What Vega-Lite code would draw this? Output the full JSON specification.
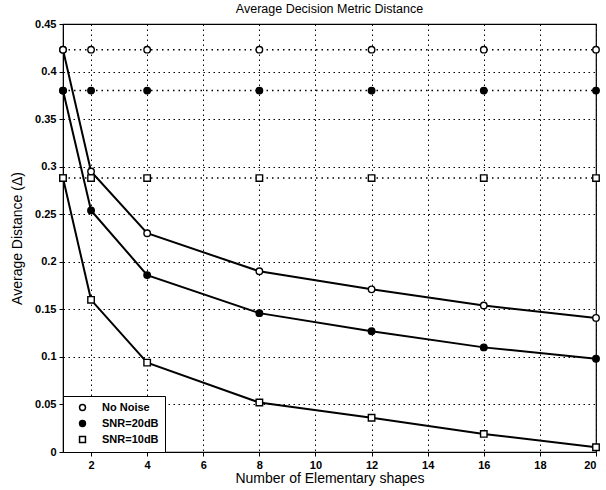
{
  "$schema": "https://vega.github.io/schema/vega-lite/v6.json",
  "autosize": "none",
  "width": 533,
  "height": 428,
  "padding": {"left": 63, "top": 24, "right": 10, "bottom": 38},
  "background": "white",
  "title": {"text": "Average Decision Metric Distance", "font": "Liberation Sans", "fontSize": 12.5, "fontWeight": "normal", "color": "black", "offset": 3},
  "config": {
    "view": {"stroke": "black", "strokeWidth": 1.2},
    "axis": {
      "grid": true,
      "domainColor": "black", "tickColor": "black", "gridColor": "black", "gridDash": [1.5, 3.5], "gridOpacity": 1, "gridWidth": 1,
      "labelFont": "Liberation Sans", "labelFontSize": 11, "labelFontWeight": "bold", "labelColor": "black",
      "titleFont": "Liberation Sans", "titleFontSize": 14, "titleFontWeight": "normal", "titleColor": "black",
      "tickSize": 4, "labelPadding": 3
    },
    "legend": {"labelFont": "Liberation Sans", "labelFontSize": 11, "labelColor": "black"}
  },
  "datasets": {
    "pts": [
      {"n": 1, "series": "No Noise", "kind": "curve", "v": 0.423},
      {"n": 2, "series": "No Noise", "kind": "curve", "v": 0.295},
      {"n": 4, "series": "No Noise", "kind": "curve", "v": 0.230},
      {"n": 8, "series": "No Noise", "kind": "curve", "v": 0.190},
      {"n": 12, "series": "No Noise", "kind": "curve", "v": 0.171},
      {"n": 16, "series": "No Noise", "kind": "curve", "v": 0.154},
      {"n": 20, "series": "No Noise", "kind": "curve", "v": 0.141},
      {"n": 1, "series": "SNR=20dB", "kind": "curve", "v": 0.380},
      {"n": 2, "series": "SNR=20dB", "kind": "curve", "v": 0.254},
      {"n": 4, "series": "SNR=20dB", "kind": "curve", "v": 0.186},
      {"n": 8, "series": "SNR=20dB", "kind": "curve", "v": 0.146},
      {"n": 12, "series": "SNR=20dB", "kind": "curve", "v": 0.127},
      {"n": 16, "series": "SNR=20dB", "kind": "curve", "v": 0.110},
      {"n": 20, "series": "SNR=20dB", "kind": "curve", "v": 0.098},
      {"n": 1, "series": "SNR=10dB", "kind": "curve", "v": 0.288},
      {"n": 2, "series": "SNR=10dB", "kind": "curve", "v": 0.160},
      {"n": 4, "series": "SNR=10dB", "kind": "curve", "v": 0.094},
      {"n": 8, "series": "SNR=10dB", "kind": "curve", "v": 0.052},
      {"n": 12, "series": "SNR=10dB", "kind": "curve", "v": 0.036},
      {"n": 16, "series": "SNR=10dB", "kind": "curve", "v": 0.019},
      {"n": 20, "series": "SNR=10dB", "kind": "curve", "v": 0.005},
      {"n": 1, "series": "No Noise", "kind": "const", "v": 0.423},
      {"n": 2, "series": "No Noise", "kind": "const", "v": 0.423},
      {"n": 4, "series": "No Noise", "kind": "const", "v": 0.423},
      {"n": 8, "series": "No Noise", "kind": "const", "v": 0.423},
      {"n": 12, "series": "No Noise", "kind": "const", "v": 0.423},
      {"n": 16, "series": "No Noise", "kind": "const", "v": 0.423},
      {"n": 20, "series": "No Noise", "kind": "const", "v": 0.423},
      {"n": 1, "series": "SNR=20dB", "kind": "const", "v": 0.380},
      {"n": 2, "series": "SNR=20dB", "kind": "const", "v": 0.380},
      {"n": 4, "series": "SNR=20dB", "kind": "const", "v": 0.380},
      {"n": 8, "series": "SNR=20dB", "kind": "const", "v": 0.380},
      {"n": 12, "series": "SNR=20dB", "kind": "const", "v": 0.380},
      {"n": 16, "series": "SNR=20dB", "kind": "const", "v": 0.380},
      {"n": 20, "series": "SNR=20dB", "kind": "const", "v": 0.380},
      {"n": 1, "series": "SNR=10dB", "kind": "const", "v": 0.288},
      {"n": 2, "series": "SNR=10dB", "kind": "const", "v": 0.288},
      {"n": 4, "series": "SNR=10dB", "kind": "const", "v": 0.288},
      {"n": 8, "series": "SNR=10dB", "kind": "const", "v": 0.288},
      {"n": 12, "series": "SNR=10dB", "kind": "const", "v": 0.288},
      {"n": 16, "series": "SNR=10dB", "kind": "const", "v": 0.288},
      {"n": 20, "series": "SNR=10dB", "kind": "const", "v": 0.288}
    ]
  },
  "data": {"name": "pts"},
  "encoding": {
    "x": {"field": "n", "type": "quantitative", "scale": {"domain": [1, 20], "nice": false, "zero": false},
          "axis": {"title": "Number of Elementary shapes", "values": [2, 4, 6, 8, 10, 12, 14, 16, 18, 20], "titlePadding": 1}},
    "y": {"field": "v", "type": "quantitative", "scale": {"domain": [0, 0.45], "nice": false},
          "axis": {"title": "Average Distance (\u0394)", "values": [0, 0.05, 0.1, 0.15, 0.2, 0.25, 0.3, 0.35, 0.4, 0.45], "format": "~g", "titlePadding": 10}}
  },
  "layer": [
    {
      "transform": [{"filter": "datum.kind == 'curve'"}],
      "mark": {"type": "line", "color": "black", "strokeWidth": 2},
      "encoding": {"detail": {"field": "series"}}
    },
    {
      "transform": [{"filter": "datum.kind == 'const'"}],
      "mark": {"type": "line", "color": "black", "strokeWidth": 1.5, "strokeDash": [1.5, 4]},
      "encoding": {"detail": {"field": "series"}}
    },
    {
      "mark": {"type": "point", "filled": false, "strokeWidth": 1.4, "size": 42, "opacity": 1},
      "encoding": {
        "stroke": {"value": "black"},
        "shape": {"field": "series", "type": "nominal", "scale": {"domain": ["No Noise", "SNR=20dB", "SNR=10dB"], "range": ["circle", "circle", "square"]},
                  "legend": {"title": null, "orient": "bottom-left", "offset": 0, "strokeColor": "black", "fillColor": "white", "padding": 6, "symbolSize": 35, "rowPadding": 3, "labelOffset": 14, "symbolOffset": 8, "labelFontWeight": "bold",
                             "encode": {"symbols": {"update": {"stroke": {"value": "black"}, "strokeWidth": {"value": 1.3}}}}}},
        "fill": {"field": "series", "type": "nominal", "scale": {"domain": ["No Noise", "SNR=20dB", "SNR=10dB"], "range": ["white", "black", "white"]},
                  "legend": {"title": null, "orient": "bottom-left", "offset": 0, "strokeColor": "black", "fillColor": "white", "padding": 6, "symbolSize": 35, "rowPadding": 3, "labelOffset": 14, "symbolOffset": 8, "labelFontWeight": "bold",
                             "encode": {"symbols": {"update": {"stroke": {"value": "black"}, "strokeWidth": {"value": 1.3}}}}}}
      }
    }
  ]
}
